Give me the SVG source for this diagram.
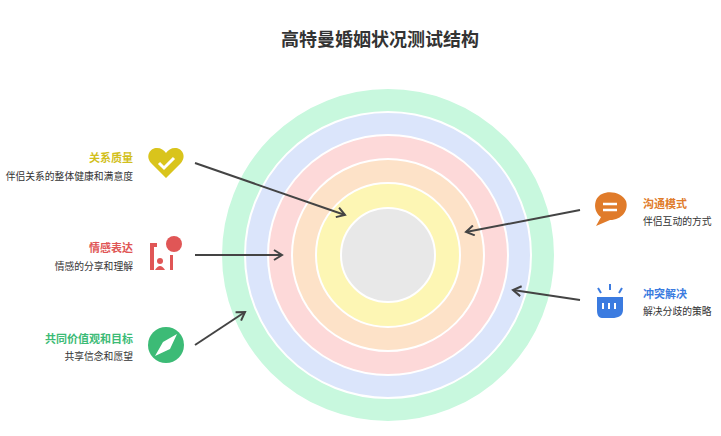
<svg xmlns="http://www.w3.org/2000/svg" width="721" height="436" viewBox="0 0 721 436">
<style>
.t{font-family:"Noto Sans CJK SC",sans-serif;font-weight:bold;font-size:11px}
.d{font-family:"Noto Sans CJK SC",sans-serif;font-size:9.8px;fill:#333}
.r{stroke:#fff;stroke-width:2}
.c{stroke:#444;stroke-width:2;fill:none;marker-end:url(#a)}
</style>
<defs><marker id="a" markerWidth="12" markerHeight="12" refX="9" refY="6" orient="auto" markerUnits="userSpaceOnUse"><path d="M1,1 L9,6 L1,11" fill="none" stroke="#444" stroke-width="2"/></marker></defs>
<rect width="721" height="436" fill="#fff"/>
<text x="380" y="46" text-anchor="middle" font-family="Noto Sans CJK SC,sans-serif" font-weight="bold" font-size="18" fill="#333">高特曼婚姻状况测试结构</text>
<g id="rings">
<circle cx="388" cy="255" r="167" fill="#c8f8de" class="r"/>
<circle cx="388" cy="255" r="143" fill="#dbe5fb" class="r"/>
<circle cx="388" cy="255" r="120" fill="#fdd9d9" class="r"/>
<circle cx="388" cy="255" r="96" fill="#fde2c8" class="r"/>
<circle cx="388" cy="255" r="72" fill="#fdf6b4" class="r"/>
<circle cx="388" cy="255" r="47" fill="#e8e8e8" class="r"/>
</g>
<g id="connectors">
<line x1="195" y1="163" x2="345" y2="215" class="c"/>
<line x1="195" y1="255" x2="282" y2="255" class="c"/>
<line x1="195" y1="345" x2="245" y2="312" class="c"/>
<line x1="580" y1="210" x2="466" y2="232" class="c"/>
<line x1="580" y1="300" x2="513" y2="290" class="c"/>
</g>
<g id="n1">
<path d="M166,178 L151,163 C145,156 150,148 157,148 C161,148 164,150 166,153 C168,150 171,148 175,148 C182,148 187,156 181,163 Z" fill="#d9c41c"/>
<path d="M159,163 L164,168 L174,158" stroke="#fff" stroke-width="3" fill="none"/>
<text x="133" y="162" text-anchor="end" class="t" fill="#d2bf1c">关系质量</text>
<text x="133" y="180" text-anchor="end" class="d">伴侣关系的整体健康和满意度</text>
</g>
<g id="n2">
<path d="M150,270 V243 H157 V247 H154 V270 Z" fill="#e05656"/>
<circle cx="174" cy="244" r="8" fill="#e05656"/>
<circle cx="160" cy="261" r="3" fill="#e05656"/>
<path d="M155,270 Q160,262 165,270 Z" fill="#e05656"/>
<rect x="170" y="255" width="3" height="15" fill="#e05656"/>
<text x="133" y="252" text-anchor="end" class="t" fill="#e05656">情感表达</text>
<text x="133" y="270" text-anchor="end" class="d">情感的分享和理解</text>
</g>
<g id="n3">
<circle cx="166" cy="345" r="18" fill="#3cbb76"/>
<path d="M155,356 L163,342 L170,349 Z M177,334 L163,342 L170,349 Z" fill="#fff"/>
<text x="133" y="343" text-anchor="end" class="t" fill="#3cbb76">共同价值观和目标</text>
<text x="133" y="360" text-anchor="end" class="d">共享信念和愿望</text>
</g>
<g id="n4">
<path d="M596,226 L601,217 C593,212 593,198 602,194 C610,190 622,193 626,201 C629,210 622,220 610,220 Z" fill="#e07b2a"/>
<path d="M603,204 H617 M603,210 H617" stroke="#fff" stroke-width="2.5"/>
<text x="643" y="208" class="t" fill="#e07b2a">沟通模式</text>
<text x="643" y="225" class="d">伴侣互动的方式</text>
</g>
<g id="n5">
<path d="M597,297 H623 V310 C623,316 618,318 612,318 H602 C598,318 597,314 597,310 Z" fill="#3b7be0"/>
<path d="M603,303 V309 M609,303 V309 M615,303 V309" stroke="#fff" stroke-width="2"/>
<path d="M610,284 V290 M598,288 L601,293 M622,288 L619,293" stroke="#3b7be0" stroke-width="2"/>
<text x="643" y="298" class="t" fill="#3b7be0">冲突解决</text>
<text x="643" y="315" class="d">解决分歧的策略</text>
</g>
</svg>
